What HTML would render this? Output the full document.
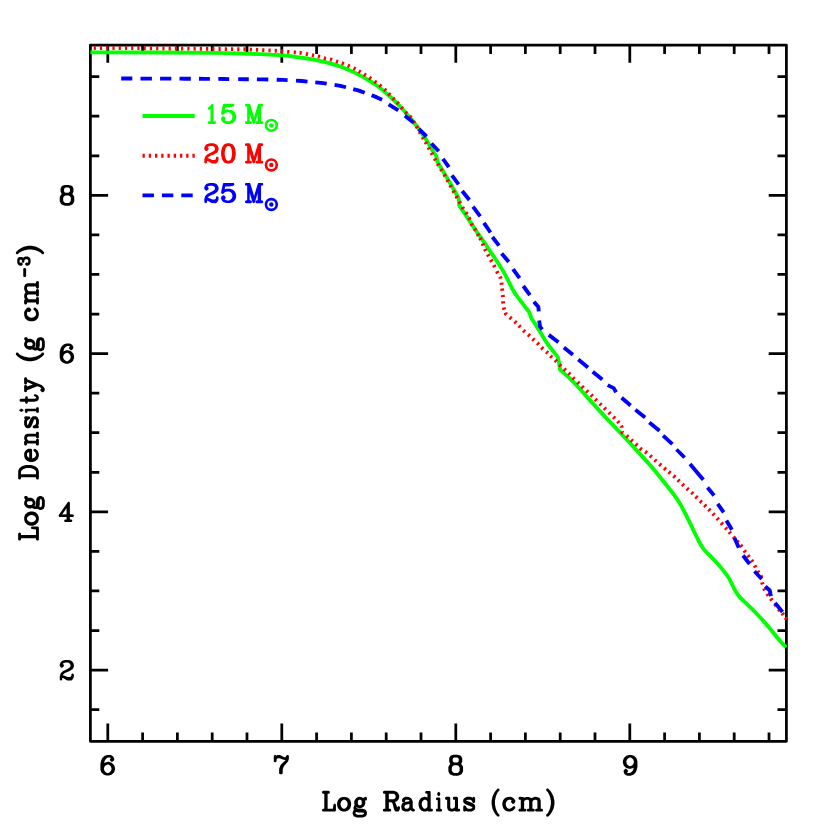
<!DOCTYPE html>
<html><head><meta charset="utf-8"><title>Log Density vs Log Radius</title>
<style>html,body{margin:0;padding:0;background:#fff;font-family:"Liberation Sans",sans-serif}svg{display:block}</style></head>
<body>
<svg width="830" height="830" viewBox="0 0 830 830">
<rect width="830" height="830" fill="#fff"/>
<g fill="none" stroke="#000" stroke-width="2.75" stroke-linecap="round" stroke-linejoin="round">
<rect x="90.4" y="45" width="696" height="696.3"/>
<path stroke-linecap="butt" d="M107.8,740.8v-17.2M107.8,45.5v17.2M142.6,740.8v-8.4M142.6,45.5v8.4M177.4,740.8v-8.4M177.4,45.5v8.4M212.2,740.8v-8.4M212.2,45.5v8.4M247,740.8v-8.4M247,45.5v8.4M281.8,740.8v-17.2M281.8,45.5v17.2M316.6,740.8v-8.4M316.6,45.5v8.4M351.4,740.8v-8.4M351.4,45.5v8.4M386.2,740.8v-8.4M386.2,45.5v8.4M421,740.8v-8.4M421,45.5v8.4M455.8,740.8v-17.2M455.8,45.5v17.2M490.6,740.8v-8.4M490.6,45.5v8.4M525.4,740.8v-8.4M525.4,45.5v8.4M560.2,740.8v-8.4M560.2,45.5v8.4M595,740.8v-8.4M595,45.5v8.4M629.8,740.8v-17.2M629.8,45.5v17.2M664.6,740.8v-8.4M664.6,45.5v8.4M699.4,740.8v-8.4M699.4,45.5v8.4M734.2,740.8v-8.4M734.2,45.5v8.4M769,740.8v-8.4M769,45.5v8.4M90.9,709.65h8.4M785.9,709.65h-8.4M90.9,670.09h17.2M785.9,670.09h-17.2M90.9,630.52h8.4M785.9,630.52h-8.4M90.9,590.96h8.4M785.9,590.96h-8.4M90.9,551.4h8.4M785.9,551.4h-8.4M90.9,511.84h17.2M785.9,511.84h-17.2M90.9,472.28h8.4M785.9,472.28h-8.4M90.9,432.71h8.4M785.9,432.71h-8.4M90.9,393.15h8.4M785.9,393.15h-8.4M90.9,353.59h17.2M785.9,353.59h-17.2M90.9,314.02h8.4M785.9,314.02h-8.4M90.9,274.46h8.4M785.9,274.46h-8.4M90.9,234.9h8.4M785.9,234.9h-8.4M90.9,195.34h17.2M785.9,195.34h-17.2M90.9,155.77h8.4M785.9,155.77h-8.4M90.9,116.21h8.4M785.9,116.21h-8.4M90.9,76.65h8.4M785.9,76.65h-8.4"/>
</g>
<g fill="none" stroke-width="3.85" stroke-linejoin="round">
<path stroke="#00ff00" d="M90.4,52.4Q140,52.4 165,52.52Q190,52.65 215,52.95Q240,53.25 260.8,54.16Q281.6,55.06 285.8,55.68Q290,56.3 302.05,57.75Q314.1,59.2 326.15,62.35Q338.2,65.5 344.2,67.95Q350.2,70.4 356.25,73.4Q362.3,76.4 368.3,80Q374.3,83.6 378.15,86.45Q382,89.3 388.05,94.7Q394.1,100.1 400.1,106.45Q406.1,112.8 412.15,120.3Q418.2,127.8 422.4,133.85Q426.6,139.9 429.3,144.95Q432,150 434.15,153L436.3,156L437.5,162Q444.1,172.9 447.7,178.9Q451.3,184.9 454.95,191.55L458.6,198.2L459.2,205.4Q468.2,218.7 472.4,225.3Q476.6,231.9 480.35,236.95Q484.1,242 488.9,249.25Q493.7,256.5 498.55,263.75Q503.4,271 506.4,277Q509.4,283 511.8,287.85Q514.2,292.7 518.45,298.1Q522.7,303.5 526.1,308.1L529.5,312.7L531.3,318.1Q538.6,328.9 541.9,334.95Q545.2,341 548.5,345.2Q551.8,349.4 554.8,353.3L557.8,357.2L559,362.7L560.2,369.9Q565.1,374.1 568.7,377.4Q572.3,380.7 576.5,385.25Q580.7,389.8 586.35,396.15Q592,402.5 598.05,409.15Q604.1,415.8 610.1,422.1Q616.1,428.4 622.15,434.75Q628.2,441.1 633.3,446.65Q638.4,452.2 642.65,456.85Q646.9,461.5 651.1,466.35Q655.3,471.2 659.5,476.45Q663.7,481.7 667.95,487Q672.2,492.3 675.55,496.95Q678.9,501.6 681,505.4Q683.1,509.2 684.45,511.95Q685.8,514.7 688.8,520.7Q691.8,526.7 693.9,531.2Q696,535.7 699,541.4Q702,547.1 703.85,549.35Q705.7,551.6 709.9,555.7Q714.1,559.8 718.3,564.6Q722.5,569.4 726.15,574.2Q729.8,579 732.05,584.15Q734.3,589.3 736.35,592.6Q738.4,595.9 740.55,598Q742.7,600.1 745.65,602.85Q748.6,605.6 751.95,608.95Q755.3,612.3 759.5,616.75Q763.7,621.2 767.95,626.25Q772.2,631.3 775.55,635.55Q778.9,639.8 782.5,643.55L786.1,647.3"/>
<path stroke="#ff0000" stroke-dasharray="0.00 3.30 2.20 4.04 2.20 4.04 2.20 4.04 2.20 4.04 2.20 4.04 2.20 4.04 2.20 4.04 2.20 4.04 2.20 4.04 2.20 4.04 2.20 4.04 2.20 4.04 2.20 4.04 2.20 4.04 2.20 4.04 2.20 4.04 2.20 4.04 2.20 4.04 2.20 4.04 2.20 4.04 2.20 4.04 2.20 4.04 2.20 4.04 2.20 4.04 2.20 4.05 2.20 4.05 2.20 4.05 2.20 4.05 2.20 4.05 2.20 4.07 2.20 4.07 2.20 4.38 2.20 3.63 2.20 4.21 2.20 3.92 2.20 3.92 2.20 4.06 2.20 4.02 2.20 4.16 2.20 3.90 2.20 4.17 2.20 4.20 2.20 3.72 2.20 3.99 2.20 4.01 2.20 4.32 2.20 3.97 2.20 4.15 2.20 3.88 2.20 4.03 2.20 3.74 2.20 4.25 2.20 4.18 2.20 3.81 2.20 4.29 2.20 3.46 2.20 4.06 2.20 3.98 2.20 3.46 2.20 3.98 2.20 3.98 2.20 4.29 2.20 3.80 2.20 4.04 2.20 4.13 2.20 3.98 2.20 3.98 2.20 4.06 2.20 3.98 2.20 4.03 2.20 4.24 2.20 4.12 2.20 3.98 2.20 4.08 2.20 3.85 2.20 3.84 2.20 2.64 2.20 3.80 2.20 3.71 2.20 3.98 2.20 3.98 2.20 3.98 2.20 4.60 2.20 4.03 2.20 3.92 2.20 3.83 2.20 4.23 2.20 4.11 2.20 4.16 2.20 3.21 2.20 4.24 2.20 4.18 2.20 3.67 2.20 4.38 2.20 4.11 2.20 4.02 2.20 4.03 2.20 3.96 2.20 4.18 2.20 3.74 2.20 4.03 2.20 4.17 2.20 4.03 2.20 3.89 2.20 4.03 2.20 4.38 2.20 3.74 2.20 4.24 2.20 3.89 2.20 3.88 2.20 4.17 2.20 3.95 2.20 4.17 2.20 4.31 2.20 3.88 2.20 3.46 2.20 3.63 2.20 4.22 2.20 3.96 2.20 4.03 2.20 3.88 2.20 4.01 2.20 4.05 2.20 4.03 2.20 4.18 2.20 3.97 2.20 3.77 2.20 4.05 2.20 3.74 2.20 3.88 2.20 4.03 2.20 3.90 2.20 3.74 2.20 4.09 2.20 3.67 2.20 3.74 2.20 3.88 2.20 4.03 2.20 4.10 2.20 4.18 2.20 3.47 2.20 4.18 2.20 3.33 2.20 3.33 2.20 4.29 2.20 3.80 2.20 3.88 2.20 4.03 2.20 3.98 2.20 3.46 2.20 4.61 2.20 4.19 2.20 4.08 2.20 3.80 2.20 4.64 2.20 3.94 2.20 3.33 2.20 3.24 2.20 1000.00" d="M90.4,48.1 L94.8,48.11 L101.04,48.12 L107.28,48.13 L113.52,48.15 L119.76,48.16 L126,48.17 L132.24,48.18 L138.48,48.2 L144.72,48.24 L150.96,48.3 L157.2,48.36 L163.44,48.41 L169.68,48.47 L175.92,48.53 L182.16,48.58 L188.4,48.64 L194.64,48.7 L200.88,48.77 L207.12,48.85 L213.36,48.92 L219.6,48.99 L225.84,49.07 L232.08,49.14 L238.32,49.22 L244.56,49.29 L250.8,49.55 L257.04,49.84 L263.28,50.13 L269.52,50.42 L275.76,50.72 L282,51.29 L288.24,51.85 L294.8,52.3 L300.6,52.9 L306.9,54.1 L312.9,55.3 L318.9,56.5 L324.9,58.3 L331,59.5 L337,61.6 L342.8,63.5 L348.7,65.9 L354.5,68.6 L359.6,71.6 L364.9,74.8 L370.1,78.2 L375.4,82 L380.3,85.75 L385.1,89.9 L389.3,94.3 L393.5,98.9 L397.7,103.1 L401.9,108 L406.1,112.8 L410.4,117 L414,122.4 L417,127.2 L420,132.7 L423,138.1 L426,142.9 L429,148.3 L432,153.7 L435.1,159.4 L438.1,164.6 L441.4,169.9 L444.7,175.3 L447.7,180.7 L450.7,186.1 L453.7,191.6 L456.7,197 L459.8,202.4 L462.8,208.1 L466.4,213.3 L469.4,218.7 L471.8,224.5 L475.2,229.5 L478.1,234.8 L480.5,239 L482.9,244.5 L485.3,249.9 L488.3,255.3 L491.3,260.7 L494.3,266.1 L497.3,272.2 L500.4,277.6 L501.6,283.6 L502.2,289.6 L502.8,296 L503.1,302.3 L504,308.6 L505.8,313.7 L510.6,318 L515.4,322.2 L519.6,326.3 L524.1,331.1 L528.9,335.2 L533.4,339.5 L538,343.7 L542.2,348.2 L547,352.4 L551.2,356.6 L555.8,360.8 L560.2,365.4 L564.8,369.6 L569.3,373.7 L573.5,378.3 L578.3,382.8 L582.5,387 L587.2,391.4 L591.7,395.5 L595.9,399.9 L600.5,404.3 L604.9,408.6 L609.5,413 L614.1,417.6 L618.3,422 L621.6,426.6 L622.2,432.4 L627.3,436.3 L631.8,440.5 L636.4,444.7 L640.8,448.9 L646,452.3 L650.8,456.3 L655.4,460.5 L660.2,464.7 L664.9,468.7 L669.5,472.5 L674.3,476.5 L678.6,480.6 L683,484.8 L687.6,489 L692.2,493 L696.4,497.2 L700.8,501.7 L705.1,505.7 L709.3,509.9 L713.5,514.3 L717.7,518.9 L721.9,523.6 L726.1,528.4 L729.8,532.7 L734,537.5 L737.6,541.7 L741.2,545.9 L744.8,551.3 L748.4,556.1 L752,561 L755.1,566.4 L758.1,571.8 L761.1,576.6 L762.3,583.3 L764.5,589.3 L767.7,594.7 L771.3,599.5 L775.5,604.9 L779.2,609.8 L782.8,614 L786,618.4 L787.2,619.6"/>
<path stroke="#0000ff" d="M121.2,78.5 L126.75,78.51 L132.3,78.53M140.5,78.55 L146.2,78.56 L151.9,78.58M160.1,78.6 L165.7,78.63 L171.3,78.65M179.5,78.69 L185.15,78.71 L190.8,78.74M199,78.78 L204.45,78.8 L209.9,78.86M218.3,78.94 L223.75,79 L229.2,79.06M238.2,79.15 L243.5,79.21 L248.8,79.26M256.9,79.34 L262.6,79.4 L268.3,79.54M276.7,79.75 L282.15,79.88 L287.6,80.18M296,80.68 L301.75,81.03 L307.5,81.57M315.3,82.3 L321,82.85 L326.7,83.7M334.6,84.89 L340.3,85.78 L346,87.24M353.25,89.1 L358.98,90.61 L364.7,92.82M371.6,95.2 L377,97.4 L382.1,99.7M388.7,104.3 L398.3,110.4M404.9,115.8 L413.4,122.4M418.8,129 L426.6,136.3M431.4,143.5 L438.7,151.3M442.9,158.8 L448.9,167.2M451.9,175.3 L458.6,184.3M462.2,191 L469.4,200M473,206.6 L480.2,216.3M483.9,222.9 L490.5,232.5M492.4,237 L499,245.7M501.6,253.5 L508.8,261.9M513,269.2 L519.6,278.2M523.3,286 L529.9,295.1M533.9,301.7 L538.4,307.1 L538.75,311.3M539.2,320.4 L540,326.6 L542.2,329.5M548.8,334.9 L558.4,342.2M563.9,347.6 L572.9,354.8M578.3,359.6 L588,367.5M592.7,371.8 L602.3,379.6M607.7,385.1 L613.7,388.1 L616.1,392.3M621.6,397.7 L630.6,405.5M635.4,409.8 L645.1,417.6M649.3,422.4 L659.5,430.8M663.1,435.7 L672.4,444.2M676.5,449.5 L684.6,457.5M690,464.1 L703.3,479.8M707.5,487.6 L714.1,495.4M717.7,503.9 L723.7,512.3M726.4,520.6 L731.9,529.7M734.5,537.9 L738.8,547.7M743,555.5 L749.6,564M754.5,571.2 L761.7,579M765.3,586.3 L769.8,590.5 L770.9,596.2M775,602.9 L782.5,612"/>
<path stroke="#00ff00" d="M142.5,116H194.7"/>
<path stroke="#ff0000" stroke-dasharray="2.3 3.94" d="M142.5,155.7H194.8"/>
<path stroke="#0000ff" stroke-dasharray="11.4 8" d="M142.5,195.3H194.7"/>
</g>
<path fill="#00ff00" d="M212.56,103.86 212.25,103.8 211.7,103.99 209.52,106.61 208.15,107.48 207.85,108.1 207.8,108.48 207.95,109.16 208.15,109.47 208.61,109.79 208.91,109.85 209.42,109.72 210.38,109.1 210.48,109.16 210.48,121.13 208.61,121.26 208.1,121.63 207.85,122.19 207.85,122.94 208.1,123.5 208.61,123.88 214.94,123.94 215.39,123.81 215.7,123.56 216,122.94 216.05,122.57 215.95,122 215.49,121.38 214.94,121.19 213.37,121.13 213.37,105.17 213.27,104.61 213.06,104.24ZM223.66,103.92 223,104.49 222.81,105.05 221.1,113.15 221.3,114.15 221.95,114.71 222.54,114.84 222.94,114.77 223.53,114.46 225.1,112.96 227.07,112.34 229.17,112.34 230.35,112.9 231.72,114.21 232.38,116.02 232.38,117.52 231.72,119.39 230.35,120.63 229.17,121.19 227,121.19 225.23,120.63 224.58,120.07 225.56,119.01 225.69,118.45 225.56,117.89 225.3,117.45 224.12,116.39 223.4,116.21 223,116.27 222.41,116.58 221.49,117.45 221.23,117.89 221.1,118.45 221.1,119.26 221.23,119.89 222.08,121.51 223.26,122.75 223.79,123.06 226.35,123.88 230.02,123.88 232.58,123.06 233.1,122.75 234.87,121.07 235.27,120.45 236.12,118.01 236.12,115.52 235.27,113.09 234.87,112.47 232.84,110.6 229.95,109.66 226.87,109.6 226.35,109.66 224.77,110.16 224.71,109.97 225.23,107.48 225.36,107.35 229.04,107.35 233.3,106.54 233.95,106.17 234.28,105.73 234.41,105.17 234.28,104.61 233.69,103.99 232.97,103.8 224.25,103.8ZM245.35,104.17 245.06,104.61 244.95,105.17 245.06,105.73 245.29,106.11 245.86,106.48 247.17,106.61 247.17,121.13 245.86,121.26 245.29,121.63 245.06,122 244.95,122.57 245.06,123.13 245.29,123.5 245.69,123.81 246.2,123.94 250.69,123.94 251.31,123.75 251.77,123.25 251.94,122.57 251.82,122 251.54,121.57 251.03,121.26 249.67,121.13 249.72,113.78 252.51,123 252.79,123.5 253.07,123.75 253.7,123.94 254.21,123.81 254.61,123.5 254.95,122.94 257.68,113.96 257.73,121.13 256.37,121.26 255.86,121.57 255.57,122 255.46,122.57 255.63,123.25 256.08,123.75 256.71,123.94 261.99,123.94 262.5,123.81 262.85,123.56 263.13,123.13 263.24,122.57 263.13,122 262.9,121.63 262.33,121.26 261.03,121.13 261.03,106.61 262.33,106.48 262.9,106.11 263.13,105.73 263.24,105.17 263.13,104.61 262.9,104.24 262.5,103.92 261.99,103.8 258.98,103.8 258.47,103.92 258.07,104.24 257.79,104.74 254.1,116.89 250.4,104.74 250.12,104.24 249.72,103.92 249.21,103.8 246.2,103.8 245.69,103.92Z"/>
<circle cx="271.35" cy="125.35" r="5.4" fill="none" stroke="#00ff00" stroke-width="2.65"/><circle cx="271.35" cy="125.35" r="2.2" fill="#00ff00"/>
<path fill="#ff0000" d="M206.72,144.24 206.35,144.49 205.23,145.74 204.42,147.37 204.3,148 204.3,148.88 204.49,149.57 205.79,150.88 206.47,151.07 207.03,150.94 208.28,149.82 208.59,149.25 208.59,148.5 208.28,147.87 207.59,147.18 208.09,146.68 209.95,146.06 212.81,146.06 213.8,146.56 214.49,147.25 214.98,148.25 214.98,149.44 214.36,150.51 212.5,151.76 207.53,154.26 207.16,154.52 205.48,156.21 205.17,156.71 204.36,159.15 204.3,162.16 204.42,162.72 204.73,163.16 205.29,163.47 205.67,163.54 206.35,163.35 206.66,163.1 206.97,162.53 207.03,161.09 207.72,161.03 211.51,163.35 211.88,163.47 215.54,163.54 216.1,163.41 216.54,163.16 217.66,161.91 218.53,160.03 218.53,157.65 218.22,157.08 217.9,156.83 217.22,156.65 216.66,156.77 216.29,157.02 215.92,157.65 215.85,159.09 215.54,159.4 214.43,159.97 212.5,159.97 208.9,158.46 208.15,158.27 207.65,158.27 207.59,158.09 208.9,156.65 210.51,155.83 214.36,154.33 217.16,152.51 217.1,152.45 217.66,151.88 218.53,150.07 218.59,148 218.46,147.44 217.66,145.81 216.48,144.49 216.1,144.24 213.49,143.36 209.77,143.3ZM227.59,143.3 227.15,143.36 224.35,144.3 223.84,144.74 222.18,147.18 221.93,147.81 221.1,151.82 221.1,155.02 221.93,159.09 222.18,159.65 223.84,162.1 224.6,162.66 227.08,163.47 229.25,163.54 229.75,163.47 232.49,162.53 233.06,161.97 234.65,159.59 234.91,158.96 235.67,155.2 235.74,152.2 234.91,147.94 234.65,147.25 232.81,144.55 232.36,144.24 229.69,143.36ZM227.91,146.06 228.93,146.06 230.07,146.62 230.65,147.18 231.35,148.63 232.05,152.07 232.05,154.83 231.28,158.46 230.71,159.59 230.07,160.22 228.93,160.78 227.85,160.78 226.7,160.22 226.19,159.72 225.49,158.34 224.73,154.64 224.73,152.26 225.49,148.5 226.13,147.25 226.76,146.62ZM245.35,143.68 245.06,144.11 244.95,144.68 245.06,145.24 245.29,145.62 245.86,145.99 247.17,146.12 247.17,160.72 245.86,160.84 245.29,161.22 245.06,161.6 244.95,162.16 245.06,162.72 245.29,163.1 245.69,163.41 246.2,163.54 250.69,163.54 251.31,163.35 251.77,162.85 251.94,162.16 251.82,161.6 251.54,161.16 251.03,160.84 249.67,160.72 249.72,153.32 252.51,162.6 252.79,163.1 253.07,163.35 253.7,163.54 254.21,163.41 254.61,163.1 254.95,162.53 257.68,153.51 257.73,160.72 256.37,160.84 255.86,161.16 255.57,161.6 255.46,162.16 255.63,162.85 256.08,163.35 256.71,163.54 261.99,163.54 262.5,163.41 262.85,163.16 263.13,162.72 263.24,162.16 263.13,161.6 262.9,161.22 262.33,160.84 261.03,160.72 261.03,146.12 262.33,145.99 262.9,145.62 263.13,145.24 263.24,144.68 263.13,144.11 262.9,143.74 262.5,143.43 261.99,143.3 258.98,143.3 258.47,143.43 258.07,143.74 257.79,144.24 254.1,156.46 250.4,144.24 250.12,143.74 249.72,143.43 249.21,143.3 246.2,143.3 245.69,143.43Z"/>
<circle cx="271.35" cy="164.9" r="5.4" fill="none" stroke="#ff0000" stroke-width="2.65"/><circle cx="271.35" cy="164.9" r="2.2" fill="#ff0000"/>
<path fill="#0000ff" d="M206.72,183.84 206.35,184.09 205.23,185.34 204.42,186.97 204.3,187.6 204.3,188.48 204.49,189.17 205.79,190.48 206.47,190.67 207.03,190.54 208.28,189.42 208.59,188.85 208.59,188.1 208.28,187.47 207.59,186.78 208.09,186.28 209.95,185.66 212.81,185.66 213.8,186.16 214.49,186.85 214.98,187.85 214.98,189.04 214.36,190.11 212.5,191.36 207.53,193.86 207.16,194.12 205.48,195.81 205.17,196.31 204.36,198.75 204.3,201.76 204.42,202.32 204.73,202.76 205.29,203.07 205.67,203.14 206.35,202.95 206.66,202.7 206.97,202.13 207.03,200.69 207.72,200.63 211.51,202.95 211.88,203.07 215.54,203.14 216.1,203.01 216.54,202.76 217.66,201.51 218.53,199.63 218.53,197.25 218.22,196.68 217.9,196.43 217.22,196.25 216.66,196.37 216.29,196.62 215.92,197.25 215.85,198.69 215.54,199 214.43,199.57 212.5,199.57 208.9,198.06 208.15,197.87 207.65,197.87 207.59,197.69 208.9,196.25 210.51,195.43 214.36,193.93 217.16,192.11 217.1,192.05 217.66,191.48 218.53,189.67 218.59,187.6 218.46,187.04 217.66,185.41 216.48,184.09 216.1,183.84 213.49,182.96 209.77,182.9ZM223.66,183.03 223,183.59 222.81,184.15 221.1,192.3 221.3,193.3 221.95,193.86 222.54,193.99 222.94,193.93 223.53,193.61 225.1,192.11 227.07,191.48 229.17,191.48 230.35,192.05 231.72,193.36 232.38,195.18 232.38,196.68 231.72,198.56 230.35,199.82 229.17,200.38 227,200.38 225.23,199.82 224.58,199.25 225.56,198.19 225.69,197.62 225.56,197.06 225.3,196.62 224.12,195.56 223.4,195.37 223,195.43 222.41,195.74 221.49,196.62 221.23,197.06 221.1,197.62 221.1,198.44 221.23,199.06 222.08,200.69 223.26,201.95 223.79,202.26 226.35,203.07 230.02,203.07 232.58,202.26 233.1,201.95 234.87,200.26 235.27,199.63 236.12,197.19 236.12,194.68 235.27,192.24 234.87,191.61 232.84,189.73 229.95,188.79 226.87,188.73 226.35,188.79 224.77,189.29 224.71,189.1 225.23,186.6 225.36,186.47 229.04,186.47 233.3,185.66 233.95,185.28 234.28,184.84 234.41,184.28 234.28,183.71 233.69,183.09 232.97,182.9 224.25,182.9ZM245.35,183.28 245.06,183.71 244.95,184.28 245.06,184.84 245.29,185.22 245.86,185.59 247.17,185.72 247.17,200.32 245.86,200.44 245.29,200.82 245.06,201.2 244.95,201.76 245.06,202.32 245.29,202.7 245.69,203.01 246.2,203.14 250.69,203.14 251.31,202.95 251.77,202.45 251.94,201.76 251.82,201.2 251.54,200.76 251.03,200.44 249.67,200.32 249.72,192.92 252.51,202.2 252.79,202.7 253.07,202.95 253.7,203.14 254.21,203.01 254.61,202.7 254.95,202.13 257.68,193.11 257.73,200.32 256.37,200.44 255.86,200.76 255.57,201.2 255.46,201.76 255.63,202.45 256.08,202.95 256.71,203.14 261.99,203.14 262.5,203.01 262.85,202.76 263.13,202.32 263.24,201.76 263.13,201.2 262.9,200.82 262.33,200.44 261.03,200.32 261.03,185.72 262.33,185.59 262.9,185.22 263.13,184.84 263.24,184.28 263.13,183.71 262.9,183.34 262.5,183.03 261.99,182.9 258.98,182.9 258.47,183.03 258.07,183.34 257.79,183.84 254.1,196.06 250.4,183.84 250.12,183.34 249.72,183.03 249.21,182.9 246.2,182.9 245.69,183.03Z"/>
<circle cx="271.35" cy="204.45" r="5.4" fill="none" stroke="#0000ff" stroke-width="2.65"/><circle cx="271.35" cy="204.45" r="2.2" fill="#0000ff"/>
<path fill="#000" d="M322.5,791.15 322.17,791.59 322,792.27 322.11,792.84 322.28,793.15 322.95,793.65 324.29,793.77 324.29,808.65 322.95,808.77 322.28,809.27 322.11,809.59 322,810.15 322.11,810.71 322.28,811.02 322.67,811.4 323.28,811.59 334.66,811.59 335.16,811.46 335.44,811.27 335.78,810.84 335.94,810.15 335.94,805.02 335.83,804.46 335.67,804.15 335,803.65 334.66,803.59 334.16,803.71 333.88,803.9 333.49,804.46 332.88,808.52 332.76,808.71 327.63,808.65 327.63,793.77 328.92,793.65 329.59,793.15 329.75,792.84 329.86,792.27 329.75,791.71 329.59,791.4 329.2,791.02 328.58,790.84 323.28,790.84 322.78,790.96ZM342.72,796.9 340.39,797.71 339.86,798.09 338.12,799.9 337.95,800.21 337.11,802.84 337.11,805.59 338.01,808.27 339.86,810.34 339.92,810.27 340.45,810.71 342.78,811.52 345.35,811.52 347.68,810.71 348.27,810.27 348.33,810.34 350.07,808.46 350.3,808.02 351.08,805.59 351.08,802.84 350.19,800.09 348.33,798.09 347.8,797.71 345.47,796.9ZM343.5,799.71 344.63,799.71 345.71,800.27 346.96,801.59 347.62,803.59 347.62,804.77 346.96,806.84 345.77,808.09 344.57,808.71 343.56,808.71 342.48,808.15 341.23,806.84 340.57,804.77 340.57,803.59 341.23,801.59 342.54,800.21ZM358.31,796.96 356.73,797.77 355.52,798.9 354.36,801.09 354.24,801.65 354.24,803.34 354.36,803.9 354.79,804.77 354.42,805.21 353.51,807.21 353.51,808.84 354,809.9 353.57,810.34 352.78,811.96 352.6,812.71 352.66,813.9 353.57,815.9 354,816.4 354.3,816.59 356.85,817.46 357.34,817.52 362.75,817.46 365.3,816.59 365.6,816.4 366.03,815.9 366.82,814.27 367,813.52 366.94,812.34 366.03,810.34 365.6,809.9 365.06,809.59 362.69,808.77 358.31,808.71 356.49,808.09 356.25,807.84 356.61,807.15 358.61,808.15 360.62,808.21 361.17,808.09 363.29,806.9 364.39,805.65 365.18,803.96 365.3,803.34 365.3,801.65 365.18,801.02 364.93,800.59 366.15,800.4 366.7,799.96 366.88,799.65 367,799.09 366.94,797.9 366.45,797.15 366.15,796.96 365.6,796.84 364.99,797.02 364.93,796.96 363.11,797.96 360.98,796.9 358.98,796.84ZM355.39,813.02 355.88,812.15 356.61,811.96 358.13,812.46 362.2,812.46 364.02,813.09 364.14,813.34 363.72,814.09 362.14,814.65 357.46,814.65 355.88,814.09 355.39,813.21ZM359.22,799.71 360.38,799.71 361.23,800.15 361.71,801.15 361.71,803.9 361.29,804.77 360.32,805.34 359.34,805.34 358.37,804.84 357.89,803.9 357.89,801.09 358.31,800.21ZM383.43,791.15 383.08,791.59 382.9,792.27 383.02,792.84 383.19,793.15 383.9,793.65 385.31,793.77 385.31,808.65 383.9,808.77 383.19,809.27 383.02,809.59 382.9,810.15 383.02,810.71 383.19,811.02 383.6,811.4 384.25,811.59 389.83,811.59 390.36,811.46 390.89,811.02 391.06,810.71 391.18,810.15 391.06,809.59 390.89,809.27 390.18,808.77 388.83,808.65 388.83,802.27 391.12,802.21 392.12,802.84 392.59,803.84 394.12,809.71 394.24,809.71 394.53,810.27 394.47,810.34 395.23,811.15 395.88,811.52 397.82,811.59 398.35,811.46 398.64,811.27 399.11,810.71 399.87,809.09 399.99,808.46 399.99,807.59 399.87,807.02 399.46,806.46 399.17,806.27 398.64,806.15 398.11,806.27 397.82,806.46 397.47,806.9 397.29,807.4 395.12,802.09 395.18,801.84 396.53,801.4 397.05,801.09 398.11,799.96 399.05,798.02 399.17,797.4 399.17,795.71 399.05,795.02 397.99,792.96 397.29,792.21 396.53,791.71 393.82,790.84 384.25,790.84 383.72,790.96ZM388.83,793.77 393.53,793.71 394.65,794.34 395.18,794.9 395.7,796.02 395.7,797.09 395.18,798.21 394.65,798.77 393.59,799.34 388.89,799.34ZM402.28,799.09 402.12,799.4 402.01,799.96 402.06,801.15 402.28,801.65 402.94,802.15 404.03,802.21 404.52,802.09 404.79,801.9 405.23,801.15 405.28,800.02 405.72,799.71 408.23,799.71 409.21,800.27 409.43,800.52 409.38,801.15 405.12,801.96 402.99,802.77 402.28,803.34 401.41,805.27 401.3,805.9 401.3,807.59 401.41,808.21 402.12,809.9 402.5,810.4 402.94,810.71 405.07,811.52 405.5,811.59 407.74,811.59 408.29,811.46 409.71,810.65 410.36,810.02 410.91,810.59 412.6,811.52 414.02,811.52 414.67,811.02 414.84,810.71 414.95,810.15 414.78,809.46 414.29,808.9 413.47,808.71 413.2,808.4 412.71,807.27 412.71,801.65 412.6,801.02 411.62,798.96 410.74,797.96 408.83,796.9 405.5,796.84 404.96,796.96 403.43,797.84ZM409.43,804.15 409.43,807.02 408.45,808.15 407.47,808.71 405.78,808.71 404.96,808.21 404.52,807.27 404.52,806.27 405.01,805.21 405.88,804.71 409.16,804.09ZM426.11,790.9 425.67,791.15 425.34,791.59 425.18,792.27 425.23,792.65 425.45,793.15 425.94,793.59 427.42,793.77 427.42,797.52 427.31,797.59 426.05,796.9 424.19,796.84 423.7,796.9 421.57,797.71 421.07,798.09 419.49,799.9 419.32,800.21 418.55,802.84 418.55,805.59 419.27,808.02 419.49,808.46 421.07,810.34 421.13,810.27 421.62,810.71 423.75,811.52 424.19,811.59 426.05,811.52 427.53,810.71 427.91,811.27 428.19,811.46 428.68,811.59 431.96,811.52 432.4,811.27 432.79,810.71 432.9,810.15 432.79,809.59 432.62,809.27 432.13,808.84 430.71,808.65 430.65,791.9 430.43,791.4 429.78,790.9ZM424.41,799.71 425.45,799.71 426.44,800.27 427.42,801.4 427.42,807.02 426.49,808.09 425.4,808.71 424.47,808.71 423.48,808.15 422.33,806.84 421.73,804.77 421.73,803.59 422.33,801.59 423.54,800.21ZM436.56,797.63 436.34,797.81 436.04,798.34 435.95,798.88 436.08,799.53 436.34,799.95 436.56,800.12 437.73,800.3 437.73,808.75 436.69,808.86 436.34,809.1 435.99,809.82 435.95,810.17 436.04,810.71 436.34,811.24 436.56,811.42 436.95,811.54 441.06,811.54 441.45,811.42 441.67,811.24 441.97,810.71 442.06,810.17 441.93,809.52 441.67,809.1 441.45,808.92 440.32,808.75 440.32,798.88 440.24,798.34 439.93,797.81 439.72,797.63 439.33,797.51 436.95,797.51ZM438.72,791.8 438.33,791.92 438.12,792.1 437.34,793.17 437.21,793.46 437.12,794 437.21,794.54 437.34,794.83 438.12,795.9 438.33,796.08 438.72,796.2 439.11,796.08 439.33,795.9 440.11,794.83 440.24,794.54 440.32,794 440.24,793.46 440.11,793.17 439.33,792.1 439.11,791.92ZM445.26,797.4 445.1,797.71 445,798.27 445.1,798.84 445.26,799.15 445.88,799.65 447.13,799.77 447.13,807.59 447.24,808.21 447.97,809.96 448.7,810.71 450.73,811.52 451.14,811.59 452.96,811.52 454.89,810.71 455.05,810.71 455.2,811.02 455.57,811.4 456.14,811.59 458.95,811.59 459.42,811.46 459.89,811.02 460.04,810.71 460.15,810.15 460.04,809.59 459.89,809.27 459.26,808.77 458.01,808.65 458.01,798.27 457.91,797.71 457.55,797.15 457.28,796.96 456.82,796.84 454.01,796.84 453.43,797.02 452.96,797.59 452.81,798.27 452.86,798.65 453.28,799.4 453.69,799.65 454.94,799.77 454.94,806.96 454.01,808.09 452.44,808.71 451.4,808.71 450.67,808.27 450.26,807.34 450.26,798.27 450.15,797.71 450,797.4 449.63,797.02 449.06,796.84 446.2,796.84 445.73,796.96ZM466.44,796.96 464.55,797.96 463.38,799.27 463.2,799.96 463.2,801.65 463.38,802.34 463.69,802.77 464.73,803.77 466.44,804.65 466.51,804.59 466.57,804.71 470.67,806.34 472.02,807.02 472.32,807.34 472.32,807.9 472.14,808.09 470.91,808.71 468.22,808.71 467.12,808.15 466.57,807.59 465.89,806.15 465.47,805.65 464.98,805.4 464.24,805.4 463.75,805.65 463.26,806.4 463.2,810.15 463.32,810.71 463.75,811.27 464.06,811.46 464.61,811.59 465.28,811.4 465.71,811.02 465.89,810.71 467.3,811.46 467.91,811.59 471.28,811.59 471.89,811.46 473.91,810.34 474.96,809.15 475.14,808.46 475.14,805.9 474.96,805.21 474.77,804.9 473.61,803.77 471.65,802.77 467.98,801.34 466.26,800.46 466.2,800.34 467.36,799.71 470.18,799.71 471.28,800.27 471.77,800.77 472.51,802.34 472.87,802.77 473.36,803.02 474.1,803.02 474.59,802.77 475.08,802.02 475.14,798.27 475.02,797.71 474.59,797.15 474.28,796.96 473.73,796.84 473.06,797.02 472.44,797.65 471.04,796.96 470.42,796.84 467.12,796.84 466.51,797.02ZM498.22,788.5 497.72,788.62 497.27,788.91 495.6,790.67 494.16,792.96 492.49,796.43 491.6,801.01 491.6,804.24 492.49,808.81 493.99,811.99 495.6,814.57 497.27,816.33 497.72,816.62 498.22,816.74 498.72,816.62 499.22,816.21 499.44,815.74 499.44,815.04 499.22,814.57 497.72,812.98 496.33,810.05 495.66,807.99 494.94,804.18 494.94,801.06 495.6,797.54 496.33,795.19 497.66,792.32 499.22,790.67 499.44,790.2 499.44,789.5 499.22,789.03 498.83,788.68ZM507.86,796.9 505.57,797.71 505.05,798.09 503.35,799.9 503.18,800.21 502.36,802.84 502.36,805.59 503.24,808.27 505.05,810.34 505.11,810.27 505.63,810.71 507.91,811.52 510.43,811.52 512.71,810.71 513.29,810.27 513.35,810.34 515.17,808.27 515.34,807.59 515.22,807.02 514.82,806.46 514.52,806.27 514,806.15 513.47,806.27 513,806.59 511.6,808.09 509.84,808.71 508.67,808.71 507.62,808.15 506.39,806.84 505.75,804.77 505.75,803.59 506.34,801.71 507.68,800.21 508.62,799.71 510.55,799.71 511.66,800.34 511.07,801.27 511.01,801.65 511.19,802.34 512.36,803.65 512.65,803.84 513.18,803.96 513.7,803.84 514,803.65 515.17,802.34 515.34,801.65 515.28,800.4 515.05,799.9 513.35,798.09 511.36,796.96 510.78,796.84ZM518.61,797.71 518.5,798.27 518.56,798.65 519,799.4 519.45,799.65 520.78,799.77 520.78,808.65 519.28,808.84 519,809.02 518.67,809.46 518.5,810.15 518.61,810.71 518.78,811.02 519.28,811.46 519.78,811.59 525.07,811.59 525.57,811.46 526.07,811.02 526.24,810.71 526.35,810.15 526.24,809.59 526.07,809.27 525.4,808.77 524.12,808.65 524.12,801.4 525.01,800.34 526.68,799.71 527.91,799.71 528.57,800.09 529.13,801.15 529.13,808.65 527.63,808.84 527.35,809.02 527.02,809.46 526.85,810.15 526.9,810.52 527.13,811.02 527.52,811.4 528.13,811.59 533.42,811.59 533.92,811.46 534.42,811.02 534.58,810.71 534.7,810.15 534.58,809.59 534.42,809.27 533.75,808.77 532.41,808.65 532.41,801.4 533.36,800.34 535.03,799.71 536.2,799.71 536.98,800.15 537.42,801.09 537.42,808.65 536.09,808.77 535.42,809.27 535.25,809.59 535.14,810.15 535.25,810.71 535.42,811.02 535.81,811.4 536.42,811.59 541.76,811.59 542.38,811.4 542.77,811.02 542.93,810.71 543.04,810.15 542.99,809.77 542.54,809.02 542.1,808.77 540.76,808.65 540.71,800.4 539.87,798.46 539.48,797.96 538.98,797.65 536.98,796.9 534.92,796.84 534.42,796.9 532.25,797.71 531.47,798.34 531.19,797.96 530.8,797.71 528.63,796.9 526.12,796.9 524.01,797.71 523.62,797.15 523.18,796.9 519.78,796.84 519.17,797.02 518.78,797.4ZM547.46,788.5 546.93,788.62 546.4,789.03 546.16,789.5 546.16,790.2 546.4,790.67 547.93,792.2 549.41,795.13 550.18,797.42 550.89,800.95 550.89,804.29 550.12,808.05 549.41,810.11 547.93,813.04 546.4,814.57 546.16,815.04 546.16,815.74 546.4,816.21 546.81,816.57 547.46,816.74 547.99,816.62 548.29,816.45 550.24,814.51 551.78,812.22 553.49,808.81 554.44,804.47 554.44,800.77 553.49,796.43 551.78,793.02 550.24,790.73 548.29,788.79 547.99,788.62ZM18.45,540.09 18.89,540.43 19.57,540.6 20.14,540.49 20.45,540.32 20.95,539.64 21.07,538.28 35.95,538.28 36.07,539.64 36.57,540.32 36.89,540.49 37.45,540.6 38.01,540.49 38.32,540.32 38.7,539.92 38.89,539.3 38.89,527.76 38.76,527.25 38.57,526.97 38.14,526.63 37.45,526.46 32.32,526.46 31.76,526.57 31.45,526.74 30.95,527.42 30.89,527.76 31.01,528.27 31.2,528.55 31.76,528.95 35.82,529.57 36.01,529.68 35.95,534.89 21.07,534.89 20.95,533.58 20.45,532.91 20.14,532.74 19.57,532.62 19.01,532.74 18.7,532.91 18.32,533.3 18.14,533.92 18.14,539.3 18.26,539.81ZM24.2,519.97 25.01,522.32 25.39,522.86 27.2,524.61 27.51,524.79 30.14,525.64 32.89,525.64 35.57,524.73 37.64,522.86 37.57,522.8 38.01,522.26 38.82,519.91 38.82,517.31 38.01,514.96 37.57,514.36 37.64,514.3 35.76,512.55 35.32,512.31 32.89,511.52 30.14,511.52 27.39,512.43 25.39,514.3 25.01,514.84 24.2,517.19ZM27.01,519.18 27.01,518.04 27.57,516.95 28.89,515.68 30.89,515.02 32.07,515.02 34.14,515.68 35.39,516.89 36.01,518.1 36.01,519.12 35.45,520.21 34.14,521.48 32.07,522.14 30.89,522.14 28.89,521.48 27.51,520.15ZM24.26,504.47 25.07,506 26.2,507.18 28.39,508.29 28.95,508.41 30.64,508.41 31.2,508.29 32.07,507.88 32.51,508.24 34.51,509.12 36.14,509.12 37.2,508.65 37.64,509.06 39.26,509.82 40.01,510 41.2,509.94 43.2,509.06 43.7,508.65 43.89,508.35 44.76,505.88 44.82,505.41 44.76,500.18 43.89,497.71 43.7,497.41 43.2,497 41.57,496.24 40.82,496.06 39.64,496.12 37.64,497 37.2,497.41 36.89,497.94 36.07,500.24 36.01,504.47 35.39,506.24 35.14,506.47 34.45,506.12 35.45,504.18 35.51,502.24 35.39,501.71 34.2,499.65 32.95,498.59 31.26,497.82 30.64,497.71 28.95,497.71 28.32,497.82 27.89,498.06 27.7,496.88 27.26,496.35 26.95,496.18 26.39,496.06 25.2,496.12 24.45,496.59 24.26,496.88 24.14,497.41 24.32,498 24.26,498.06 25.26,499.82 24.2,501.88 24.14,503.82ZM40.32,507.29 39.45,506.82 39.26,506.12 39.76,504.65 39.76,500.71 40.39,498.94 40.64,498.82 41.39,499.24 41.95,500.76 41.95,505.29 41.39,506.82 40.51,507.29ZM27.01,503.59 27.01,502.47 27.45,501.65 28.45,501.18 31.2,501.18 32.07,501.59 32.64,502.53 32.64,503.47 32.14,504.41 31.2,504.88 28.39,504.88 27.51,504.47ZM18.45,479.03 18.89,479.34 19.57,479.5 20.14,479.39 20.45,479.24 20.95,478.61 21.07,477.35 35.95,477.35 36.07,478.61 36.57,479.24 36.89,479.39 37.45,479.5 38.01,479.39 38.32,479.24 38.7,478.87 38.89,478.29 38.89,471.15 38.01,468.73 37.64,468.16 35.51,466.48 33.64,465.69 31.2,465.01 25.82,465.01 23.39,465.69 21.51,466.48 19.2,468.42 18.2,470.83 18.14,478.29 18.26,478.76ZM21.01,474.14 21.01,471.41 21.64,470.41 23.01,469.26 24.39,468.68 26.64,468.05 30.45,468.05 32.7,468.68 33.95,469.21 35.45,470.47 36.01,471.41 35.95,474.2ZM24.2,456.36 25.01,458.68 25.39,459.21 27.2,460.93 27.51,461.11 30.14,461.94 32.89,461.94 35.57,461.05 37.64,459.21 37.57,459.15 38.01,458.62 38.82,456.3 38.82,453.75 38.01,451.43 37.57,450.84 37.64,450.78 35.57,448.94 34.89,448.76 34.32,448.88 34.01,449.06 33.57,449.59 33.45,450.12 33.51,450.48 33.89,451.13 35.39,452.56 36.01,454.34 36.01,455.53 35.45,456.6 34.14,457.84 32.14,458.44 32.07,450.12 31.95,449.59 31.51,449.06 31.01,448.82 28.57,448.82 26.64,449.71 26.2,450.01 25.14,451.13 24.2,453.03ZM29.01,457.9 27.51,456.54 27.01,455.59 27.01,453.63 27.45,452.8 28.39,452.32 29.2,452.38 29.2,457.84ZM24.7,445.26 25.01,445.41 25.57,445.5 26.14,445.41 26.45,445.26 26.95,444.7 27.07,443.56 35.95,443.56 36.07,444.7 36.57,445.26 36.89,445.41 37.45,445.5 38.01,445.41 38.57,445.07 38.76,444.84 38.89,444.41 38.89,439.92 38.76,439.5 38.32,439.07 38.01,438.93 37.45,438.84 36.89,438.93 36.57,439.07 36.07,439.64 35.95,440.73 28.7,440.73 27.64,439.97 27.01,438.55 27.01,437.51 27.39,436.95 28.45,436.47 35.95,436.47 36.07,437.61 36.57,438.17 36.89,438.32 37.45,438.41 38.01,438.32 38.32,438.17 38.7,437.84 38.89,437.32 38.89,432.83 38.76,432.41 38.32,431.98 38.01,431.84 37.45,431.75 36.89,431.84 36.57,431.98 36.07,432.55 35.95,433.68 28.07,433.68 27.45,433.78 25.7,434.44 25.26,434.72 25.01,435.06 24.2,436.9 24.14,437.32 24.2,439.03 25.01,440.77 24.32,441.29 24.14,441.81 24.14,444.41 24.26,444.84ZM24.26,425.06 25.26,426.95 26.57,428.12 27.26,428.3 28.95,428.3 29.64,428.12 30.07,427.81 31.07,426.77 31.95,425.06 31.89,424.99 32.01,424.93 33.64,420.83 34.32,419.48 34.64,419.18 35.2,419.18 35.39,419.36 36.01,420.59 36.01,423.28 35.45,424.38 34.89,424.93 33.45,425.61 32.95,426.03 32.7,426.52 32.7,427.26 32.95,427.75 33.7,428.24 37.45,428.3 38.01,428.18 38.57,427.75 38.76,427.44 38.89,426.89 38.7,426.22 38.32,425.79 38.01,425.61 38.76,424.2 38.89,423.59 38.89,420.22 38.76,419.61 37.64,417.59 36.45,416.54 35.76,416.36 33.2,416.36 32.51,416.54 32.2,416.73 31.07,417.89 30.07,419.85 28.64,423.52 27.76,425.24 27.64,425.3 27.01,424.14 27.01,421.32 27.57,420.22 28.07,419.73 29.64,418.99 30.07,418.63 30.32,418.14 30.32,417.4 30.07,416.91 29.32,416.42 25.57,416.36 25.01,416.48 24.45,416.91 24.26,417.22 24.14,417.77 24.32,418.44 24.95,419.06 24.26,420.46 24.14,421.08 24.14,424.38 24.32,424.99ZM25,412.33 25.18,412.53 25.71,412.82 26.24,412.9 26.89,412.78 27.3,412.53 27.48,412.33 27.66,411.23 36.06,411.23 36.18,412.21 36.42,412.53 37.13,412.86 37.48,412.9 38.01,412.82 38.55,412.53 38.72,412.33 38.84,411.96 38.84,408.08 38.72,407.71 38.55,407.51 38.01,407.22 37.48,407.14 36.83,407.26 36.42,407.51 36.24,407.71 36.06,408.77 26.24,408.77 25.71,408.86 25.18,409.14 25,409.35 24.88,409.71 24.88,411.96ZM19.2,410.29 19.32,410.65 19.5,410.86 20.56,411.59 20.86,411.72 21.39,411.8 21.92,411.72 22.22,411.59 23.28,410.86 23.46,410.65 23.58,410.29 23.46,409.92 23.28,409.71 22.22,408.98 21.92,408.86 21.39,408.77 20.86,408.86 20.56,408.98 19.5,409.71 19.32,409.92ZM19.66,400.87 19.89,401.26 20.59,401.65 25.11,401.7 25.22,402.87 25.45,403.26 25.98,403.6 26.5,403.7 26.84,403.65 27.31,403.46 27.71,403.02 27.89,401.7 34.38,401.7 37.1,401.02 37.91,400.44 38.73,399.07 38.84,398.58 38.78,396.98 37.97,395.51 37.34,394.93 35.65,394.25 35.13,394.15 34.78,394.2 34.32,394.39 33.97,394.73 33.8,395.27 33.86,395.56 34.32,396.15 35.77,396.83 36.18,397.51 36.18,398.14 36,398.29 34.26,398.78 27.89,398.78 27.83,397.27 27.66,396.73 27.31,396.39 27.02,396.24 26.5,396.15 26.15,396.2 25.69,396.39 25.28,396.83 25.16,397.27 25.11,398.78 20.93,398.78 20.41,398.88 19.89,399.22 19.66,399.61ZM24.32,377.94 24.14,378.56 24.14,383.2 24.26,383.71 24.7,384.22 25.01,384.39 25.57,384.5 26.14,384.39 26.45,384.22 26.95,383.54 27.01,382.18 27.14,382.12 32.89,384.39 27.14,386.6 27.01,386.54 26.82,385.63 26.45,385.24 26.14,385.07 25.57,384.95 25.2,385.01 24.45,385.46 24.26,385.75 24.14,386.26 24.14,390.9 24.26,391.41 24.7,391.92 25.01,392.09 25.57,392.2 26.26,392.03 26.7,391.69 26.89,391.41 27.07,390.16 37.26,386.2 37.51,386.2 40.01,387.33 41.32,388.58 40.45,389.48 40.26,390.11 40.45,390.73 41.51,391.8 42.2,392.14 42.95,392.14 43.45,391.92 44.39,391.07 44.7,390.62 44.82,390.11 44.7,388.75 43.7,386.99 41.89,385.35 41.45,385.07 37.82,383.43 27.07,379.29 26.89,378.05 26.7,377.77 26.14,377.37 25.57,377.26 25.01,377.37 24.7,377.54ZM15.8,353.96 15.92,354.51 16.21,354.99 17.98,356.82 20.28,358.4 23.75,360.23 28.35,361.2 31.59,361.2 36.19,360.23 39.37,358.58 41.96,356.82 43.73,354.99 44.02,354.51 44.14,353.96 44.02,353.41 43.61,352.87 43.14,352.62 42.43,352.62 41.96,352.87 40.37,354.51 37.42,356.03 35.36,356.76 31.53,357.55 28.41,357.55 24.87,356.82 22.52,356.03 19.63,354.57 17.98,352.87 17.51,352.62 16.8,352.62 16.33,352.87 15.98,353.29ZM24.26,345.69 25.07,347.24 26.2,348.44 28.39,349.57 28.95,349.69 30.64,349.69 31.2,349.57 32.07,349.15 32.51,349.51 34.51,350.41 36.14,350.41 37.2,349.93 37.64,350.35 39.26,351.12 40.01,351.3 41.2,351.24 43.2,350.35 43.7,349.93 43.89,349.63 44.76,347.12 44.82,346.65 44.76,341.34 43.89,338.83 43.7,338.53 43.2,338.11 41.57,337.34 40.82,337.16 39.64,337.22 37.64,338.11 37.2,338.53 36.89,339.07 36.07,341.4 36.01,345.69 35.39,347.48 35.14,347.72 34.45,347.36 35.45,345.39 35.51,343.42 35.39,342.89 34.2,340.8 32.95,339.73 31.26,338.95 30.64,338.83 28.95,338.83 28.32,338.95 27.89,339.19 27.7,337.99 27.26,337.46 26.95,337.28 26.39,337.16 25.2,337.22 24.45,337.7 24.26,337.99 24.14,338.53 24.32,339.13 24.26,339.19 25.26,340.98 24.2,343.07 24.14,345.04ZM40.32,348.56 39.45,348.08 39.26,347.36 39.76,345.87 39.76,341.87 40.39,340.08 40.64,339.96 41.39,340.38 41.95,341.93 41.95,346.53 41.39,348.08 40.51,348.56ZM27.01,344.8 27.01,343.66 27.45,342.83 28.45,342.35 31.2,342.35 32.07,342.77 32.64,343.72 32.64,344.68 32.14,345.63 31.2,346.11 28.39,346.11 27.51,345.69ZM24.2,315.5 25.01,317.92 25.39,318.48 27.2,320.28 27.51,320.47 30.14,321.34 32.89,321.34 35.57,320.41 37.64,318.48 37.57,318.42 38.01,317.86 38.82,315.44 38.82,312.77 38.01,310.35 37.57,309.73 37.64,309.67 35.57,307.75 34.89,307.56 34.32,307.69 33.76,308.12 33.57,308.43 33.45,308.99 33.57,309.55 33.89,310.04 35.39,311.53 36.01,313.4 36.01,314.64 35.45,315.75 34.14,317.06 32.07,317.74 30.89,317.74 29.01,317.12 27.51,315.69 27.01,314.7 27.01,312.65 27.64,311.47 28.57,312.09 28.95,312.15 29.64,311.97 30.95,310.73 31.14,310.42 31.26,309.86 31.14,309.3 30.95,308.99 29.64,307.75 28.95,307.56 27.7,307.62 27.2,307.87 25.39,309.67 24.26,311.78 24.14,312.4ZM25.01,304.49 25.57,304.6 25.95,304.55 26.7,304.12 26.95,303.69 27.07,302.41 35.95,302.41 36.14,303.85 36.32,304.12 36.76,304.44 37.45,304.6 38.01,304.49 38.32,304.33 38.76,303.85 38.89,303.37 38.89,298.3 38.76,297.82 38.32,297.34 38.01,297.18 37.45,297.07 36.89,297.18 36.57,297.34 36.07,297.98 35.95,299.21 28.7,299.21 27.64,298.35 27.01,296.75 27.01,295.58 27.39,294.94 28.45,294.4 35.95,294.4 36.14,295.84 36.32,296.11 36.76,296.43 37.45,296.59 37.82,296.54 38.32,296.32 38.7,295.95 38.89,295.36 38.89,290.29 38.76,289.81 38.32,289.33 38.01,289.17 37.45,289.06 36.89,289.17 36.57,289.33 36.07,289.97 35.95,291.25 28.7,291.25 27.64,290.34 27.01,288.74 27.01,287.62 27.45,286.87 28.39,286.45 35.95,286.45 36.07,287.73 36.57,288.37 36.89,288.53 37.45,288.64 38.01,288.53 38.32,288.37 38.7,287.99 38.89,287.41 38.89,282.28 38.7,281.69 38.32,281.32 38.01,281.16 37.45,281.05 37.07,281.11 36.32,281.53 36.07,281.96 35.95,283.24 27.7,283.3 25.76,284.1 25.26,284.47 24.95,284.95 24.2,286.87 24.14,288.85 24.2,289.33 25.01,291.41 25.64,292.16 25.26,292.43 25.01,292.8 24.2,294.88 24.2,297.29 25.01,299.31 24.45,299.69 24.2,300.11 24.14,303.37 24.32,303.96 24.7,304.33ZM15.8,252.92 15.92,253.46 16.33,254 16.8,254.24 17.51,254.24 17.98,254 19.51,252.44 22.46,250.95 24.76,250.17 28.29,249.45 31.65,249.45 35.42,250.23 37.48,250.95 40.43,252.44 41.96,254 42.43,254.24 43.14,254.24 43.61,254 43.96,253.58 44.14,252.92 44.02,252.38 43.85,252.09 41.9,250.11 39.6,248.55 36.19,246.82 31.83,245.86 28.11,245.86 23.75,246.82 20.34,248.55 18.04,250.11 16.09,252.09 15.92,252.38ZM24.69,277.1 25.25,277.01 25.56,276.86 25.94,276.53 26.12,276.02 26.12,269.08 26,268.66 25.81,268.42 25.38,268.14 24.69,268 24.12,268.09 23.81,268.23 23.44,268.56 23.25,269.08 23.25,276.02 23.38,276.44 23.56,276.68 24,276.96ZM17.26,262.63 17.71,263.91 18.1,264.4 18.04,264.46 18.55,264.95 20.09,265.74 21.38,265.74 21.89,265.43 22.6,264.7 22.79,264.09 22.73,263.72 21.89,262.81 21.38,262.5 20.61,262.5 20.03,262.93 19.9,262.81 19.64,262.08 19.64,260.37 19.84,260 20.16,259.82 21.31,259.82 21.57,259.94 21.89,260.37 21.89,261.65 22.09,262.26 22.47,262.63 23.11,262.81 23.76,262.63 24.14,262.26 24.34,261.65 24.34,260.43 24.85,259.64 25.94,259.27 27.04,259.27 27.61,259.57 27.94,259.88 28.19,260.37 28.19,261.95 27.81,262.93 27.16,262.5 26.39,262.5 26.14,262.63 25.24,263.48 25.04,264.09 25.24,264.7 26.14,265.62 26.78,265.8 27.68,265.74 28.9,265.19 29.74,264.46 30.12,263.85 30.64,262.14 30.57,259.7 30.12,258.41 29.74,257.8 29.03,257.13 27.68,256.52 25.36,256.52 24.14,257.07 23.37,257.74 21.96,257.01 19.58,257.01 18.42,257.56 17.71,258.35 17.26,259.64 17.2,260.12ZM110.68,754.96 107.28,754.96 104.88,755.79 104.19,756.16 102.48,757.87 101.28,760.15 100.4,763.69 100.4,769.12 100.46,769.63 101.28,772.16 101.47,772.48 103.37,774.37 103.93,774.75 106.39,775.57 109.04,775.57 111.5,774.75 112.07,774.37 113.96,772.48 114.15,772.16 114.97,769.63 114.97,767.73 114.15,765.27 113.96,764.95 111.88,762.93 111.44,762.68 108.98,761.85 107.72,761.79 107.09,761.92 104.88,762.68 104.25,763.06 104.19,762.99 104.63,761.1 105.32,759.7 106.9,758.12 108.03,757.56 109.93,757.56 110.87,758.06 110.05,758.95 109.86,759.33 109.86,760.08 110.05,760.46 111.06,761.48 111.63,761.79 112.01,761.85 112.77,761.6 113.96,760.46 114.22,759.7 114.15,758.44 113.21,756.54 112.58,755.91ZM108.29,764.45 109.42,765.02 110.87,766.47 111.57,768.56 111.57,768.94 110.87,770.96 109.42,772.41 108.29,772.98 107.15,772.98 106.02,772.41 104.56,770.96 103.87,768.94 103.87,768.56 104.56,766.47 105.89,765.14 107.91,764.45ZM274.78,754.96 274.06,755.43 273.8,756.14 273.8,761 274.06,761.72 274.78,762.19 275.56,762.19 276.28,761.72 276.54,761 276.54,759.64 277,758.81 278.11,758.22 279.41,758.22 283.52,759.76 285.67,759.88 285.48,760.35 281.3,764.15 280.98,764.56 280.13,766.1 279.15,768.65 279.15,773.45 279.35,773.81 280.06,774.28 281.76,774.28 282.15,774.1 282.67,773.45 282.74,769.24 283.52,767.11 284.3,765.69 288.02,761.42 288.87,759.05 288.87,755.79 288.35,755.14 287.96,754.96 287.17,754.96 286.46,755.43 285.54,757.09 285.35,757.27 284.37,757.33 280,754.96 277.45,754.96 277.06,755.14 276.47,755.67 275.95,755.14 275.56,754.96ZM453.54,754.76 451.05,755.6 450.6,755.85 450.15,756.37 449.2,758.29 449.2,761.69 450.35,763.94 449.39,764.9 448.36,767.01 448.36,771.31 449.39,773.43 450.41,774.45 450.99,774.84 453.48,775.67 453.99,775.74 457.96,775.67 460.45,774.84 461.03,774.45 462.05,773.43 463.07,771.31 463.07,767.01 462.05,764.9 461.09,763.94 462.24,761.69 462.24,758.29 461.15,756.18 460.39,755.6 457.44,754.7ZM454.25,765.28 457.19,765.28 458.34,765.86 459.04,766.56 459.62,767.78 459.62,770.54 458.98,771.82 458.34,772.47 457.19,773.04 454.25,773.04 453.1,772.47 452.46,771.82 451.82,770.54 451.82,767.78 452.39,766.56 453.1,765.86ZM453.16,758.03 454.31,757.39 457.12,757.39 458.15,757.91 458.72,759 458.72,761.05 458.28,761.95 457.19,762.59 454.31,762.59 453.29,762.08 452.71,761.05 452.71,759ZM631.38,754.96 628.86,754.96 626.4,755.79 625.77,756.17 623.87,758.08 622.86,760.93 622.86,762.78 623.68,765.32 623.87,765.64 625.95,767.73 628.73,768.75 630.12,768.81 630.62,768.75 633.08,767.92 633.59,767.61 633.65,767.67 633.15,769.7 632.52,770.97 631,772.5 629.87,773.07 627.78,773.07 626.96,772.62 627.78,771.73 628.04,770.97 627.78,770.21 626.59,769 626.21,768.81 625.45,768.81 624.88,769.13 624.06,769.96 623.68,770.59 623.62,771.8 623.81,772.5 624.63,774.15 625.32,774.78 627.15,775.67 630.62,775.67 633.08,774.85 633.65,774.47 635.61,772.43 636.55,770.46 637.44,766.97 637.44,761.44 637.37,760.93 636.36,758.08 634.28,756.04 633.84,755.79ZM630.62,757.57 631.88,758.2 633.27,759.6 633.97,761.7 633.97,762.08 633.27,764.17 632.01,765.45 629.99,766.14 629.55,766.14 628.29,765.51 626.96,764.17 626.27,762.08 626.27,761.7 626.96,759.6 628.35,758.2 629.61,757.57ZM64.87,184.96 62.41,185.79 61.97,186.04 61.53,186.55 60.58,188.46 60.58,191.82 61.72,194.05 60.77,195 59.76,197.1 59.76,201.35 60.77,203.45 61.78,204.47 62.35,204.85 64.81,205.67 65.32,205.74 69.23,205.67 71.69,204.85 72.25,204.47 73.26,203.45 74.27,201.35 74.27,197.1 73.26,195 72.32,194.05 73.45,191.82 73.45,188.46 72.38,186.36 71.62,185.79 68.72,184.9ZM65.57,195.38 68.47,195.38 69.61,195.95 70.3,196.65 70.87,197.86 70.87,200.59 70.24,201.86 69.61,202.5 68.47,203.07 65.57,203.07 64.43,202.5 63.8,201.86 63.17,200.59 63.17,197.86 63.74,196.65 64.43,195.95ZM64.49,188.2 65.63,187.57 68.41,187.57 69.42,188.08 69.98,189.16 69.98,191.19 69.54,192.08 68.47,192.71 65.63,192.71 64.62,192.21 64.05,191.19 64.05,189.16ZM69.84,343.46 66.48,343.46 64.12,344.27 63.43,344.64 61.75,346.31 60.57,348.55 59.7,352.02 59.7,357.35 59.76,357.85 60.57,360.33 60.76,360.64 62.62,362.5 63.18,362.87 65.61,363.68 68.23,363.68 70.65,362.87 71.21,362.5 73.08,360.64 73.27,360.33 74.08,357.85 74.08,355.99 73.27,353.57 73.08,353.26 71.03,351.27 70.59,351.03 68.16,350.22 66.92,350.16 66.3,350.28 64.12,351.03 63.5,351.4 63.43,351.34 63.87,349.48 64.55,348.11 66.11,346.56 67.23,346 69.1,346 70.03,346.5 69.22,347.37 69.03,347.74 69.03,348.48 69.22,348.86 70.22,349.85 70.78,350.16 71.15,350.22 71.9,349.97 73.08,348.86 73.33,348.11 73.27,346.87 72.33,345.01 71.71,344.39ZM67.48,352.76 68.6,353.32 70.03,354.75 70.72,356.79 70.72,357.17 70.03,359.15 68.6,360.58 67.48,361.13 66.36,361.13 65.24,360.58 63.81,359.15 63.12,357.17 63.12,356.79 63.81,354.75 65.11,353.44 67.11,352.76ZM69.01,501.86 68.3,501.86 67.95,502.05 67.54,502.48 58.95,514.76 58.66,515.31 58.6,515.68 58.84,516.42 59.48,516.92 66.54,516.98 66.6,519.39 65.07,519.51 64.72,519.69 64.25,520.37 64.19,520.74 64.42,521.48 65.07,521.98 71.07,522.04 71.77,521.79 72.24,521.11 72.24,520.37 72.07,520 71.42,519.51 69.89,519.39 69.89,517.04 73.01,516.92 73.36,516.73 73.83,516.05 73.89,515.68 73.66,514.94 73.01,514.45 69.89,514.33 69.89,503.1 69.66,502.36ZM66.54,508.34 66.6,514.33 62.42,514.39 62.36,514.33ZM62.33,660.78 61.72,661.16 60.92,661.98 60.62,662.42 59.76,664.3 59.76,665.88 60.07,666.44 61.05,667.45 61.41,667.64 62.15,667.64 62.7,667.32 63.55,666.44 63.86,665.88 63.86,665.12 63.68,664.74 62.82,663.8 63.37,663.23 65.39,662.54 68.14,662.54 69.36,663.17 69.91,663.74 70.53,665 70.53,666.07 69.91,667.26 67.9,668.65 62.88,671.16 60.74,673.3 59.76,676.13 59.76,679.59 60.25,680.29 60.62,680.47 61.35,680.47 61.72,680.29 62.21,679.59 62.27,678.02 63.12,677.96 67.28,680.47 71.32,680.47 71.87,680.16 72.85,679.09 73.77,677.27 73.71,677.2 73.89,676.64 73.89,674.94 73.64,674.18 73.34,673.87 72.6,673.62 71.87,673.87 71.38,674.56 71.32,676.07 70.89,676.51 69.91,677.01 67.71,677.01 63.86,675.38 62.76,675.25 62.94,674.75 64.23,673.43 65.57,672.74 69.67,671.1 72.42,669.27 72.97,668.65 73.83,666.76 73.89,664.68 73.71,664.12 73.77,664.05 72.85,662.23 71.87,661.16 71.26,660.78 68.87,659.96 65.14,659.9Z"/>
</svg>
</body></html>
